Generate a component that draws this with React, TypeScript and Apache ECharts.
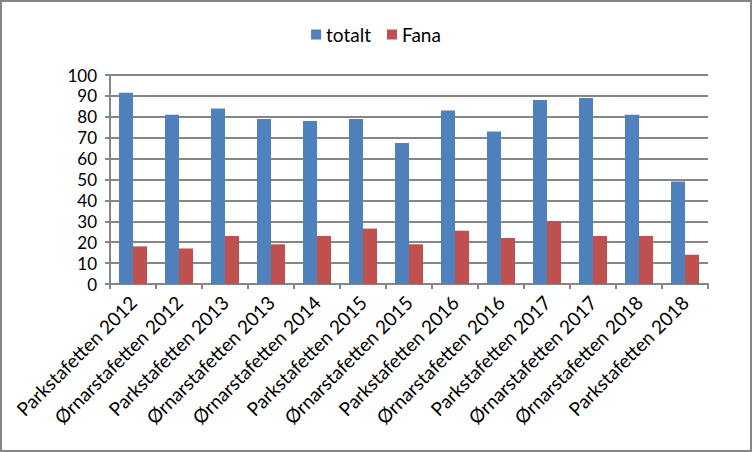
import React, { useEffect, useRef } from "react";
import * as echarts from "echarts";

const categories = [
  "Parkstafetten 2012",
  "Ørnarstafetten 2012",
  "Parkstafetten 2013",
  "Ørnarstafetten 2013",
  "Ørnarstafetten 2014",
  "Parkstafetten 2015",
  "Ørnarstafetten 2015",
  "Parkstafetten 2016",
  "Ørnarstafetten 2016",
  "Parkstafetten 2017",
  "Ørnarstafetten 2017",
  "Ørnarstafetten 2018",
  "Parkstafetten 2018",
];
const totalt = [91.5, 81, 84, 79, 78, 79, 67.5, 83, 73, 88, 89, 81, 49];
const fana = [18, 17, 23, 19, 23, 26.5, 19, 25.5, 22, 30, 23, 23, 14];

const FONT = "Lato";

export default function App() {
  const ref = useRef<HTMLDivElement>(null);
  useEffect(() => {
    document.body.style.margin = "0";
    const chart = echarts.init(ref.current!, null, { renderer: "svg" });
    chart.setOption({
      animation: false,
      backgroundColor: "#ffffff",
      textStyle: { fontFamily: FONT },
      legend: {
        top: 20,
        left: "center",
        itemWidth: 10,
        itemHeight: 10,
        itemGap: 16,
        icon: "rect",
        textStyle: { fontSize: 19, color: "#000", fontFamily: FONT },
        data: ["totalt", "Fana"],
      },
      grid: { left: 110, right: 44, top: 75, bottom: 168, containLabel: false },
      xAxis: {
        type: "category",
        data: categories,
        axisLine: { lineStyle: { color: "#868686", width: 2 } },
        axisTick: { show: true, alignWithLabel: false, length: 5, lineStyle: { color: "#868686", width: 2 } },
        axisLabel: {
          rotate: 45,
          interval: 0,
          fontSize: 19,
          color: "#000",
          fontFamily: FONT,
          margin: 15,
        },
      },
      yAxis: {
        type: "value",
        min: 0,
        max: 100,
        interval: 10,
        axisLine: { show: true, lineStyle: { color: "#868686", width: 2 } },
        axisTick: { show: true, length: 5, lineStyle: { color: "#868686", width: 2 } },
        splitLine: { lineStyle: { color: "#868686", width: 2 } },
        axisLabel: { fontSize: 17, lineHeight: 17, color: "#000", fontFamily: FONT, margin: 13 },
      },
      series: [
        {
          name: "totalt",
          type: "bar",
          data: totalt,
          barWidth: 14,
          barGap: "0%",
          itemStyle: { color: "#4F81BD" },
        },
        {
          name: "Fana",
          type: "bar",
          data: fana,
          barWidth: 14,
          barGap: "0%",
          itemStyle: { color: "#C0504D" },
        },
      ],
    });
    return () => chart.dispose();
  }, []);
  return (
    <div style={{ position: "fixed", left: 0, top: 0, width: 752, height: 452, background: "#fff" }}>
      <div ref={ref} style={{ position: "absolute", left: 0, top: 0, width: 752, height: 452 }} />
      <div
        style={{
          position: "absolute",
          left: 0,
          top: 0,
          width: 752,
          height: 452,
          boxSizing: "border-box",
          border: "2px solid #868686",
          pointerEvents: "none",
        }}
      />
    </div>
  );
}
